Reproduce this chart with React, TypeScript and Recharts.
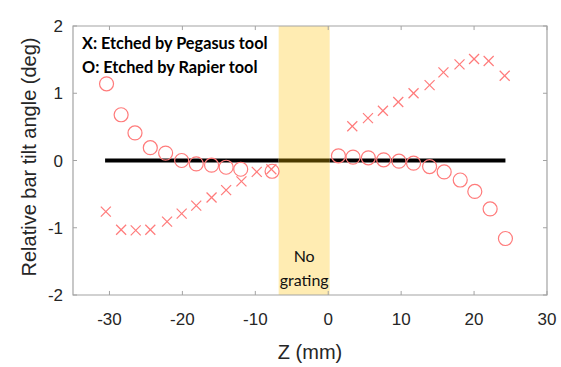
import React from 'react';
import {
  ScatterChart,
  Scatter,
  XAxis,
  YAxis,
  ReferenceArea,
  ReferenceLine,
} from 'recharts';

// Pegasus (X markers)
const pegasusZ = [-30.5, -28.4, -26.4, -24.4, -22.1, -20.1, -18.1, -16.0, -14.0, -11.9, -9.8, -7.8, 3.3, 5.45, 7.5, 9.6, 11.7, 13.9, 15.8, 18.0, 20.0, 22.0, 24.2];
const pegasusAngle = [-0.76, -1.03, -1.04, -1.03, -0.91, -0.79, -0.67, -0.55, -0.44, -0.31, -0.17, -0.13, 0.51, 0.63, 0.74, 0.87, 1.0, 1.12, 1.31, 1.43, 1.51, 1.48, 1.26];

// Rapier (O markers)
const rapierZ = [-30.4, -28.4, -26.5, -24.4, -22.3, -20.1, -18.1, -16.0, -14.0, -12.0, -7.7, 1.4, 3.4, 5.5, 7.6, 9.7, 11.7, 13.9, 15.9, 18.1, 20.1, 22.2, 24.3];
const rapierAngle = [1.14, 0.68, 0.41, 0.19, 0.11, 0.0, -0.05, -0.07, -0.1, -0.13, -0.16, 0.07, 0.05, 0.04, 0.01, -0.01, -0.04, -0.09, -0.17, -0.29, -0.46, -0.72, -1.16];

const zeroLineZ = [-30.6, 24.3];
const noGratingZ = [-6.8, 0.2];
const xDomain = [-35, 30];
const yDomain = [-2, 2];
const xTicks = [-30, -20, -10, 0, 10, 20, 30];
const yTicks = [-2, -1, 0, 1, 2];

const pegasusData = pegasusZ.map((z, i) => ({ z, angle: pegasusAngle[i] }));
const rapierData = rapierZ.map((z, i) => ({ z, angle: rapierAngle[i] }));

const MARK = '#ff7b7b';
const AXIS = '#262626';
const FRAME = '#a3a3a3';
const FONT = '"Liberation Sans", Arial, sans-serif';

// inward tick length, in data units (~4px)
const xTickLen = 0.06;
const yTickLen = 0.55;

const CrossShape = (props: any) => {
  const { cx, cy } = props;
  const s = 5;
  return (
    <g stroke={MARK} strokeWidth={1.2}>
      <line x1={cx - s} y1={cy - s} x2={cx + s} y2={cy + s} />
      <line x1={cx - s} y1={cy + s} x2={cx + s} y2={cy - s} />
    </g>
  );
};

const CircleShape = (props: any) => {
  const { cx, cy } = props;
  return <circle cx={cx} cy={cy} r={7} fill="none" stroke={MARK} strokeWidth={1.2} />;
};

export default function App() {
  return (
    <div style={{ position: 'absolute', left: 0, top: 0, width: 561, height: 367, background: '#fff' }}>
      <ScatterChart width={561} height={367} margin={{ top: 26, right: 14, bottom: 0, left: 0 }}>
        <XAxis
          type="number"
          dataKey="z"
          domain={xDomain}
          ticks={xTicks}
          allowDataOverflow
          height={72}
          axisLine={false}
          tickLine={false}
          tickSize={-4}
          tickMargin={22}
          tick={{ fill: AXIS, fontSize: 17, fontFamily: FONT }}
          label={{ value: 'Z (mm)', position: 'insideBottom', offset: 8, fill: AXIS, fontSize: 20, fontFamily: FONT }}
        />
        <YAxis
          type="number"
          dataKey="angle"
          domain={yDomain}
          ticks={yTicks}
          allowDataOverflow
          width={73}
          axisLine={false}
          tickLine={false}
          tickSize={-4}
          tickMargin={14}
          tick={{ fill: AXIS, fontSize: 17, fontFamily: FONT }}
          label={(p: any) => (
            <text
              x={29}
              y={157}
              transform="rotate(-90, 29, 157)"
              textAnchor="middle"
              dominantBaseline="central"
              fill={AXIS}
              fontSize={20}
              fontFamily={FONT}
            >
              Relative bar tilt angle (deg)
            </text>
          )}
        />
        <ReferenceArea
          x1={noGratingZ[0]}
          x2={noGratingZ[1]}
          y1={yDomain[0]}
          y2={yDomain[1]}
          fill="#ffc000"
          fillOpacity={0.3}
          stroke="none"
          label={(p: any) => {
            const vb = p.viewBox || {};
            const cx = vb.x + vb.width / 2;
            return (
              <g fill="#111" fontSize={16} fontFamily="Lato, sans-serif" textAnchor="middle">
                <text x={cx} y={262}>No</text>
                <text x={cx} y={286}>grating</text>
              </g>
            );
          }}
        />
        {/* box around the axes */}
        <ReferenceArea
          x1={xDomain[0]}
          x2={xDomain[1]}
          y1={yDomain[0]}
          y2={yDomain[1]}
          fill="none"
          stroke={FRAME}
          strokeWidth={1.2}
          ifOverflow="visible"
        />
        {/* inward ticks on all four sides */}
        {xTicks.map((t) => (
          <ReferenceLine key={`xb${t}`} segment={[{ x: t, y: yDomain[0] }, { x: t, y: yDomain[0] + xTickLen }]} stroke={FRAME} ifOverflow="visible" />
        ))}
        {xTicks.map((t) => (
          <ReferenceLine key={`xt${t}`} segment={[{ x: t, y: yDomain[1] }, { x: t, y: yDomain[1] - xTickLen }]} stroke={FRAME} ifOverflow="visible" />
        ))}
        {yTicks.map((t) => (
          <ReferenceLine key={`yl${t}`} segment={[{ x: xDomain[0], y: t }, { x: xDomain[0] + yTickLen, y: t }]} stroke={FRAME} ifOverflow="visible" />
        ))}
        {yTicks.map((t) => (
          <ReferenceLine key={`yr${t}`} segment={[{ x: xDomain[1], y: t }, { x: xDomain[1] - yTickLen, y: t }]} stroke={FRAME} ifOverflow="visible" />
        ))}
        {/* zero line: black, darkened brown where the translucent band covers it */}
        <ReferenceLine
          segment={[{ x: zeroLineZ[0], y: 0 }, { x: noGratingZ[0], y: 0 }]}
          stroke="#000"
          strokeWidth={4}
        />
        <ReferenceLine
          segment={[{ x: noGratingZ[0], y: 0 }, { x: noGratingZ[1], y: 0 }]}
          stroke="#4c3a00"
          strokeWidth={4}
        />
        <ReferenceLine
          segment={[{ x: noGratingZ[1], y: 0 }, { x: zeroLineZ[1], y: 0 }]}
          stroke="#000"
          strokeWidth={4}
        />
        <Scatter data={pegasusData} shape={CrossShape} isAnimationActive={false} />
        <Scatter data={rapierData} shape={CircleShape} isAnimationActive={false} />
        <ReferenceLine
          y={yDomain[1]}
          stroke="none"
          label={(p: any) => (
            <g fill="#000" fontSize={16.3} fontWeight="bold" fontFamily="Lato, sans-serif">
              <text x={82} y={49}>X: Etched by Pegasus tool</text>
              <text x={82} y={73}>O: Etched by Rapier tool</text>
            </g>
          )}
        />
      </ScatterChart>
    </div>
  );
}
